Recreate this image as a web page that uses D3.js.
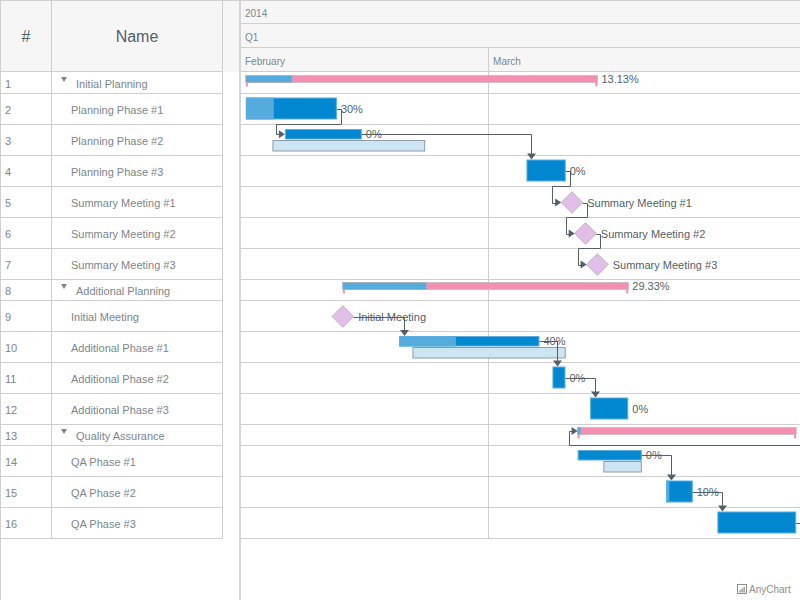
<!DOCTYPE html>
<html><head><meta charset="utf-8">
<script src="https://cdn.jsdelivr.net/npm/d3@7"></script>
<style>
body{margin:0;background:#fff;}
svg{display:block;font-family:"Liberation Sans",Arial,Helvetica,sans-serif;}
</style>
</head><body>
<svg id="chart" width="800" height="600"></svg>
<script>
// ---------- DATA ----------
const taskNames = ["Initial Planning","Planning Phase #1","Planning Phase #2","Planning Phase #3",
  "Summary Meeting #1","Summary Meeting #2","Summary Meeting #3","Additional Planning","Initial Meeting",
  "Additional Phase #1","Additional Phase #2","Additional Phase #3","Quality Assurance","QA Phase #1",
  "QA Phase #2","QA Phase #3"];
const taskTypes = ["group","task","task","task","milestone","milestone","milestone","group","milestone",
  "task","task","task","group","task","task","task"];
const taskParents = [-1,0,0,0,0,0,0,-1,7,7,7,7,-1,12,12,12];
const actualStarts = [null,"2014-02-10T07:00","2014-02-13T07:00","2014-03-03T21:00","2014-03-07T09:00",
  "2014-03-08T10:00","2014-03-09T08:00",null,"2014-02-17T18:00","2014-02-22T02:00","2014-03-05T21:00",
  "2014-03-08T18:30",null,"2014-03-07T19:30","2014-03-14T15:00","2014-03-18T13:30"];
const actualEnds = [null,"2014-02-17T07:00","2014-02-19T05:00","2014-03-06T21:30",null,null,null,null,null,
  "2014-03-04T21:00","2014-03-06T21:00","2014-03-11T17:00",null,"2014-03-12T18:00","2014-03-16T16:00",
  "2014-03-24T15:00"];
const baselineStarts = [null,null,"2014-02-12T08:00",null,null,null,null,null,null,"2014-02-23T02:30",
  null,null,null,"2014-03-09T19:00",null,null];
const baselineEnds = [null,null,"2014-02-24T02:00",null,null,null,null,null,null,"2014-03-06T21:30",
  null,null,null,"2014-03-12T18:00",null,null];
const progressValues = [13.13,30,0,0,null,null,null,29.33,null,40,0,0,1.58,0,10,0];
const connectorFrom = [1,2,3,4,5,8,9,10,13,14,15];
const connectorTo   = [2,3,4,5,6,9,10,11,14,15,12];
const yearLabels = ["2014"], yearStarts = ["2014-01-01T00:00"];
const quarterLabels = ["Q1"], quarterStarts = ["2014-01-01T00:00"];
const monthLabels = ["February","March"], monthStarts = ["2014-02-01T00:00","2014-03-01T00:00"];
const visibleRange = ["2014-02-09T22:00","2014-03-24T22:00"];

// ---------- STYLE / LAYOUT ----------
const W = 800, H = 600;
const gridCols = [0, 51, 222, 239];
const tlLeft = 241, tlRight = 800;
const headerH = 72, firstRowTop = 73;
const lineColor = "#cfcfcf", headBg = "#f6f6f6";
const textDark = "#545f69", textLight = "#7c868e";
const cActual = "#0288d1", cActualStroke = "#5aaedf", cProgress = "#55acdc";
const cBaseline = "#cde5f3", cBaselineStroke = "#8d9ca7";
const cGroup = "#f48fb1", cMilestone = "#e1bee7", cMilestoneStroke = "#bfb6c2";
const cConn = "#545f69";
const half = 10.8;

const parse = s => s ? new Date(s + "Z") : null;
const svg = d3.select("#chart");
const x = d3.scaleUtc().domain(visibleRange.map(parse)).range([tlLeft, tlRight]);

// rows
const rows = taskNames.map((n, i) => ({
  i, name: n, type: taskTypes[i], parent: taskParents[i],
  start: parse(actualStarts[i]), end: parse(actualEnds[i]),
  bStart: parse(baselineStarts[i]), bEnd: parse(baselineEnds[i]),
  progress: progressValues[i]
}));
rows.filter(r => r.type === "group").forEach(g => {
  const kids = rows.filter(r => r.parent === g.i);
  g.start = d3.min(kids, k => k.start);
  g.end = d3.max(kids, k => k.end || k.start);
});
let yy = firstRowTop;
rows.forEach(r => { r.h = r.type === "group" ? 21 : 31; r.top = yy; yy += r.h; r.bottom = yy; });
const bodyBottom = yy;

// ---------- BACKGROUNDS ----------
svg.append("rect").attr("width", W).attr("height", H).attr("fill", "#fff");
svg.append("rect").attr("x", 0).attr("y", 0).attr("width", W).attr("height", headerH).attr("fill", headBg);

// ---------- DATA GRID ----------
const grid = svg.append("g");
grid.append("line").attr("x1", 0).attr("x2", gridCols[2]).attr("y1", headerH - 0.5).attr("y2", headerH - 0.5).attr("stroke", lineColor);
grid.selectAll(".rl").data(rows).join("line")
  .attr("x1", 0).attr("x2", gridCols[2]).attr("y1", d => d.bottom - 0.5).attr("y2", d => d.bottom - 0.5)
  .attr("stroke", lineColor);
grid.append("line").attr("x1", 0.5).attr("x2", 0.5).attr("y1", 0).attr("y2", H).attr("stroke", lineColor);
[gridCols[1], gridCols[2]].forEach(cx => grid.append("line").attr("x1", cx + 0.5).attr("x2", cx + 0.5)
  .attr("y1", 0).attr("y2", bodyBottom).attr("stroke", lineColor));
grid.append("line").attr("x1", 0).attr("x2", W).attr("y1", 0.5).attr("y2", 0.5).attr("stroke", lineColor);
grid.append("text").attr("x", (gridCols[0] + gridCols[1]) / 2 + 0.5).attr("y", 36).attr("text-anchor", "middle")
  .attr("dominant-baseline", "central").attr("font-size", 16).attr("fill", textDark).text("#");
grid.append("text").attr("x", (gridCols[1] + gridCols[2]) / 2 + 0.5).attr("y", 36).attr("text-anchor", "middle")
  .attr("dominant-baseline", "central").attr("font-size", 16).attr("fill", textDark).text("Name");
grid.selectAll(".num").data(rows).join("text")
  .attr("x", 5).attr("y", d => d.top + d.h / 2).attr("dominant-baseline", "central")
  .attr("font-size", 11).attr("fill", textLight).text(d => d.i + 1);
grid.selectAll(".nm").data(rows).join("text")
  .attr("x", d => d.type === "group" ? 76 : 71).attr("y", d => d.top + d.h / 2).attr("dominant-baseline", "central")
  .attr("font-size", 11).attr("fill", textLight).text(d => d.name);
grid.selectAll(".tri").data(rows.filter(r => r.type === "group")).join("path")
  .attr("d", d => { const cy = d.top + 6.5; return `M61,${cy - 2.5}L67,${cy - 2.5}L64,${cy + 2.5}Z`; })
  .attr("fill", textLight);

// splitter
svg.append("rect").attr("x", 239).attr("y", 0).attr("width", 2).attr("height", H).attr("fill", "#d4d4d4");

// ---------- TIMELINE ----------
svg.append("clipPath").attr("id", "tlclip").append("rect")
  .attr("x", tlLeft).attr("y", 0).attr("width", tlRight - tlLeft).attr("height", H);
const tl = svg.append("g").attr("clip-path", "url(#tlclip)");

const levels = [
  {labels: yearLabels, starts: yearStarts, top: 0, bottom: 24},
  {labels: quarterLabels, starts: quarterStarts, top: 24, bottom: 48},
  {labels: monthLabels, starts: monthStarts, top: 48, bottom: headerH}
];
levels.forEach((lv, li) => {
  tl.append("line").attr("x1", tlLeft).attr("x2", tlRight).attr("y1", lv.bottom - 0.5).attr("y2", lv.bottom - 0.5).attr("stroke", lineColor);
  lv.labels.forEach((lab, k) => {
    const px = x(parse(lv.starts[k]));
    if (px > tlLeft) {
      tl.append("line").attr("x1", Math.round(px) - 0.5).attr("x2", Math.round(px) - 0.5)
        .attr("y1", lv.top).attr("y2", li === 2 ? bodyBottom : lv.bottom).attr("stroke", lineColor);
    }
    tl.append("text").attr("x", Math.max(px, tlLeft) + 4).attr("y", lv.top + 13.5)
      .attr("dominant-baseline", "central").attr("font-size", 10).attr("fill", textLight).text(lab);
  });
});
tl.selectAll(".trl").data(rows).join("line")
  .attr("x1", tlLeft).attr("x2", tlRight).attr("y1", d => d.bottom - 0.5).attr("y2", d => d.bottom - 0.5)
  .attr("stroke", lineColor);

function barBox(r) {
  if (r.type === "group") return {y: r.top + 2.5, h: 7};
  if (r.bStart) return {y: r.top + 4, h: 10.5};
  return {y: r.top + 3.5, h: 22};
}
function centerY(r) {
  if (r.type === "milestone") return r.top + 15.5;
  const b = barBox(r); return b.y + b.h / 2;
}

const marks = tl.append("g");
marks.selectAll(".bl").data(rows.filter(r => r.bStart)).join("rect")
  .attr("x", d => x(d.bStart) + 0.5).attr("y", d => d.top + 15.5)
  .attr("width", d => x(d.bEnd) - x(d.bStart) - 1).attr("height", 10.5)
  .attr("fill", cBaseline).attr("stroke", cBaselineStroke);

const tasks = rows.filter(r => r.type === "task");
marks.selectAll(".act").data(tasks).join("rect")
  .attr("x", d => x(d.start) + 0.5).attr("y", d => barBox(d).y + 0.5)
  .attr("width", d => x(d.end) - x(d.start) - 1).attr("height", d => barBox(d).h - 1)
  .attr("fill", cActual).attr("stroke", cActualStroke);
marks.selectAll(".prg").data(tasks.filter(d => d.progress > 0)).join("rect")
  .attr("x", d => x(d.start) + 0.5).attr("y", d => barBox(d).y + 0.5)
  .attr("width", d => (x(d.end) - x(d.start)) * d.progress / 100 - 0.5).attr("height", d => barBox(d).h - 1)
  .attr("fill", cProgress).attr("stroke", cActualStroke);

const groups = rows.filter(r => r.type === "group");
marks.selectAll(".gb").data(groups).join("rect")
  .attr("x", d => x(d.start)).attr("y", d => barBox(d).y)
  .attr("width", d => x(d.end) - x(d.start)).attr("height", 7)
  .attr("fill", cGroup).attr("stroke", "#c9b7be").attr("stroke-width", 0.8);
marks.selectAll(".gp").data(groups).join("rect")
  .attr("x", d => x(d.start)).attr("y", d => barBox(d).y)
  .attr("width", d => (x(d.end) - x(d.start)) * d.progress / 100).attr("height", 7)
  .attr("fill", cProgress).attr("stroke", "#a9b4bb").attr("stroke-width", 0.8);
marks.selectAll(".gtl").data(groups).join("rect")
  .attr("x", d => x(d.start)).attr("y", d => barBox(d).y + 7).attr("width", 2).attr("height", 4).attr("fill", cGroup);
marks.selectAll(".gtr").data(groups).join("rect")
  .attr("x", d => x(d.end) - 2).attr("y", d => barBox(d).y + 7).attr("width", 2).attr("height", 4).attr("fill", cGroup);

const miles = rows.filter(r => r.type === "milestone");
marks.selectAll(".ms").data(miles).join("path")
  .attr("d", d => { const cx = x(d.start), cy = centerY(d);
    return `M${cx - half},${cy}L${cx},${cy - half}L${cx + half},${cy}L${cx},${cy + half}Z`; })
  .attr("fill", cMilestone).attr("stroke", cMilestoneStroke);

function srcPoint(r) {
  if (r.type === "milestone") return [x(r.start) + half, centerY(r)];
  return [x(r.end), centerY(r)];
}
function dstPoint(r) {
  if (r.type === "milestone") return [x(r.start) - half, centerY(r), centerY(r) - half];
  return [x(r.start), centerY(r), barBox(r).y];
}
const conn = tl.append("g");
connectorFrom.forEach((f, k) => {
  const s = rows[f], t = rows[connectorTo[k]];
  const [sx, sy] = srcPoint(s);
  const [tx, ty, ttop] = dstPoint(t);
  const X = v => Math.round(v) + 0.5, Y = v => Math.round(v) + 0.5;
  if (tx > sx + 2) {
    const vx = X(tx + 5);
    conn.append("path").attr("d", `M${sx},${Y(sy)}H${vx}V${ttop - 5}`)
      .attr("fill", "none").attr("stroke", cConn);
    conn.append("path").attr("d", `M${vx - 4.5},${ttop - 6}L${vx + 4.5},${ttop - 6}L${vx},${ttop}Z`).attr("fill", cConn);
  } else {
    const hx = X(sx + 4), by = Y(t.top > s.top ? t.top : t.bottom) - 1, lx = X(tx - 9);
    conn.append("path").attr("d", `M${sx},${Y(sy)}H${hx}V${by}H${lx}V${Y(ty)}H${tx - 5}`)
      .attr("fill", "none").attr("stroke", cConn);
    conn.append("path").attr("d", `M${tx - 6},${ty - 4}L${tx - 6},${ty + 4}L${tx},${ty}Z`).attr("fill", cConn);
  }
});

// labels (only those that start inside the visible timeline)
const labG = tl.append("g");
rows.forEach(r => {
  let lx, txt;
  if (r.type === "milestone") { lx = x(r.start) + half + 4.5; txt = r.name; }
  else { lx = x(r.end) + 4; txt = r.progress + "%"; }
  if (lx > tlRight - 6) return;
  labG.append("text").attr("x", lx).attr("y", centerY(r)).attr("dominant-baseline", "central")
    .attr("font-size", 11).attr("fill", textDark).text(txt);
});

// credits
const cr = svg.append("g").attr("fill", "#8e8e8e");
cr.append("rect").attr("x", 737.5).attr("y", 584.5).attr("width", 9).attr("height", 9).attr("fill", "none").attr("stroke", "#8e8e8e");
[[739.5, 590], [741.5, 588.5], [743.5, 587]].forEach(([bx, by]) =>
  cr.append("rect").attr("x", bx).attr("y", by).attr("width", 1.3).attr("height", 592.5 - by));
cr.append("text").attr("x", 749).attr("y", 589).attr("dominant-baseline", "central").attr("font-size", 10).text("AnyChart");
</script>
</body></html>
